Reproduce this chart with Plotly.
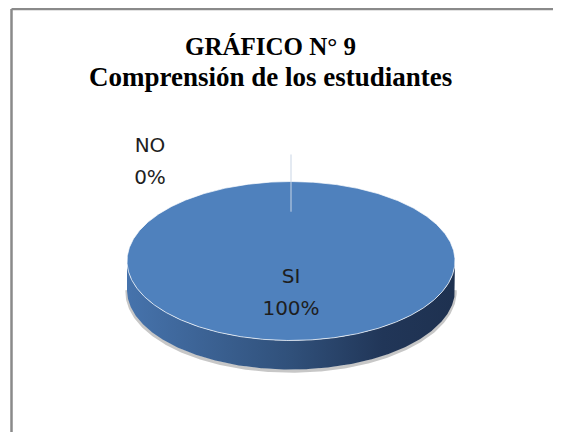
import numpy as np
import plotly.graph_objects as go

# ---- data ----
categories = ["SI", "NO"]
values = [100, 0]
title_lines = ["GRÁFICO N° 9", "Comprensión de los estudiantes"]

# ---- geometry / style constants (page pixel units) ----
W, H = 561, 432
OFF = 8                    # default body margin of the page
CX, CY = 291, 261          # centre of top ellipse
RX, RY = 164, 79.5         # semi axes of top ellipse
DEPTH = 29                 # thickness of the 3D pie
TOP_COLOR = "#4F81BD"
LABEL_FONT = dict(family="DejaVu Sans", size=20, color="#1e1e1e")
NO_LABEL_CENTER = (150, 163)
LINE_GAP = 16

total = float(sum(values))


def ell(theta_deg, r=1.0, dy=0.0):
    t = np.radians(theta_deg)
    return CX + r * RX * np.cos(t), CY - r * RY * np.sin(t) + dy


def px(x):
    return (x - OFF) / (W - OFF)


def py(y):
    return 1 - (y - OFF) / (H - OFF)


fig = go.Figure()

# slices angles (start at 12 o'clock, clockwise)
start = 90.0
slices = []
for cat, v in zip(categories, values):
    sweep = 360.0 * v / total
    slices.append((cat, v, start, start - sweep))
    start -= sweep

# soft shadow under the bottom rim
for cat, v, a0, a1 in slices:
    if v <= 0:
        continue
    th = np.linspace(a1, a0, 721)
    th = th[np.sin(np.radians(th)) <= 0.02]
    x, y = ell(th, dy=DEPTH + 1.5)
    fig.add_trace(go.Scatter(x=x, y=y, mode="lines",
                             line=dict(color="rgba(0,0,0,0.22)", width=3.5),
                             hoverinfo="skip", showlegend=False))

# side walls (front part only)
for cat, v, a0, a1 in slices:
    if v <= 0:
        continue
    th = np.linspace(a1, a0, 721)
    th = th[np.sin(np.radians(th)) <= 0]
    xt, yt = ell(th)
    order = np.argsort(xt)
    xt, yt = xt[order], yt[order]
    xb, yb = xt[::-1], yt[::-1] + DEPTH
    xs = np.concatenate([xt, xb, xt[:1]])
    ys = np.concatenate([yt, yb, yt[:1]])
    fig.add_trace(go.Scatter(
        x=xs, y=ys, mode="lines", fill="toself",
        line=dict(width=0, color="rgba(0,0,0,0)"),
        fillgradient=dict(type="horizontal",
                          colorscale=[[0, "#4673AC"], [0.5, "#30507A"],
                                      [0.78, "#213658"], [1, "#1E3150"]]),
        hoverinfo="skip", showlegend=False))

# top faces
for cat, v, a0, a1 in slices:
    if v <= 0:
        continue
    th = np.linspace(a0, a1, 721)
    x, y = ell(th)
    if v < total:
        x = np.concatenate([[CX], x, [CX]])
        y = np.concatenate([[CY], y, [CY]])
    fig.add_trace(go.Scatter(
        x=x, y=y, mode="lines", fill="toself", fillcolor=TOP_COLOR,
        line=dict(color="rgba(255,255,255,0.7)", width=1),
        name=cat, hoverinfo="skip", showlegend=False))

# slice edge / leader of the zero slice
for cat, v, a0, a1 in slices:
    if v > 0:
        continue
    x0, y0 = ell(a0, r=0.62)
    x1, y1 = ell(a0, r=1.34)
    fig.add_trace(go.Scatter(x=[x0, x1], y=[y0, y1], mode="lines",
                             line=dict(color="#c9d5e5", width=1),
                             hoverinfo="skip", showlegend=False))

# data labels
lx, ly, ltxt = [], [], []
for cat, v, a0, a1 in slices:
    pct = f"{v / total * 100:.0f}%"
    if v > 0:
        cx, cy = ell((a0 + a1) / 2.0, r=0.42)
    else:
        cx, cy = NO_LABEL_CENTER
    lx += [cx, cx]
    ly += [cy - LINE_GAP, cy + LINE_GAP]
    ltxt += [cat, pct]
fig.add_trace(go.Scatter(x=lx, y=ly, mode="text", text=ltxt,
                         textfont=LABEL_FONT, textposition="middle center",
                         hoverinfo="skip", showlegend=False))

title_sizes = [25, 27]
title_ys = [47, 77]
annotations = [
    dict(text=f"<b>{t}</b>", xref="paper", yref="paper",
         x=px(270), y=py(yy), xanchor="center", yanchor="middle",
         showarrow=False,
         font=dict(family="Liberation Serif", size=s, color="black"))
    for t, s, yy in zip(title_lines, title_sizes, title_ys)
]

fig.update_layout(
    width=W - OFF, height=H - OFF,
    margin=dict(l=0, r=0, t=0, b=0),
    paper_bgcolor="white", plot_bgcolor="white",
    xaxis=dict(range=[OFF, W], visible=False, fixedrange=True),
    yaxis=dict(range=[H, OFF], visible=False, fixedrange=True),
    annotations=annotations,
    shapes=[
        dict(type="line", xref="paper", yref="paper",
             x0=px(11.5), x1=1, y0=py(9), y1=py(9),
             line=dict(color="#8a8a8a", width=2.5)),
        dict(type="line", xref="paper", yref="paper",
             x0=px(11.5), x1=px(11.5), y0=0, y1=py(9),
             line=dict(color="#8a8a8a", width=2.5)),
    ],
)

fig.write_html("out.html")
